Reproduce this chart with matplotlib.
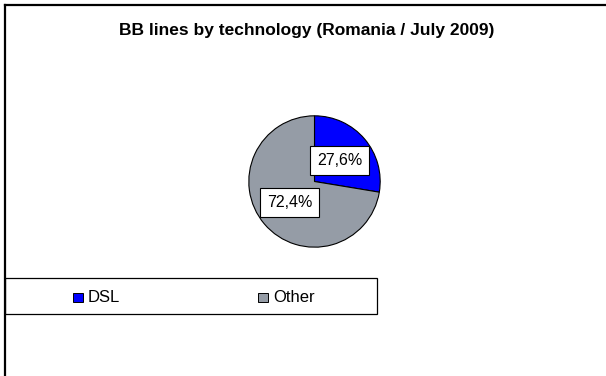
import matplotlib.pyplot as plt
from matplotlib.patches import Rectangle
from matplotlib.lines import Line2D

plt.rcParams['font.family'] = ['Liberation Sans', 'DejaVu Sans']

labels = ['DSL', 'Other']
shares = [27.6, 72.4]
colors = ['#0000FF', '#959CA6']
title = 'BB lines by technology (Romania / July 2009)'

W, H = 606, 376
fig = plt.figure(figsize=(W / 100, H / 100), dpi=100)


def fx(px):
    return px / W


def fy(py):
    return 1 - py / H


# chart frame (top and left edges only are visible)
fig.add_artist(Line2D([fx(5), 1], [fy(4.5), fy(4.5)], color='black', lw=1.6))
fig.add_artist(Line2D([fx(5), fx(5)], [fy(4.5), 0], color='black', lw=1.6))

fig.text(fx(307), fy(30), title, ha='center', va='center',
         fontsize=12.5, fontweight='bold')

# pie
cx, cy, r = 314.5, 181.5, 67
ax = fig.add_axes([fx(cx - r), fy(cy + r), 2 * r / W, 2 * r / H])
wedges, texts, autotexts = ax.pie(
    shares, colors=colors, startangle=90, counterclock=False,
    autopct=lambda p: f'{p:.1f}%'.replace('.', ','), pctdistance=0.5,
    wedgeprops=dict(edgecolor='black', linewidth=0.8),
    textprops=dict(fontsize=11.5))
for t in autotexts:
    t.set_bbox(dict(boxstyle='square,pad=0.45', facecolor='white',
                    edgecolor='black', linewidth=0.8))
ax.set_xlim(-1.02, 1.02)
ax.set_ylim(-1.02, 1.02)
ax.set_aspect('equal')
ax.axis('off')

# legend box
fig.add_artist(Rectangle((fx(5), fy(314)), fx(377 - 5), (314 - 278) / H,
                         facecolor='white', edgecolor='black', lw=0.9))
marker_x = [73, 258]
for lab, col, mx in zip(labels, colors, marker_x):
    fig.add_artist(Rectangle((fx(mx), fy(302)), 10 / W, 9 / H,
                             facecolor=col, edgecolor='black', lw=0.7))
    fig.text(fx(mx + 15), fy(297), lab, ha='left', va='center', fontsize=12)

fig.savefig('out.png', dpi=100)
